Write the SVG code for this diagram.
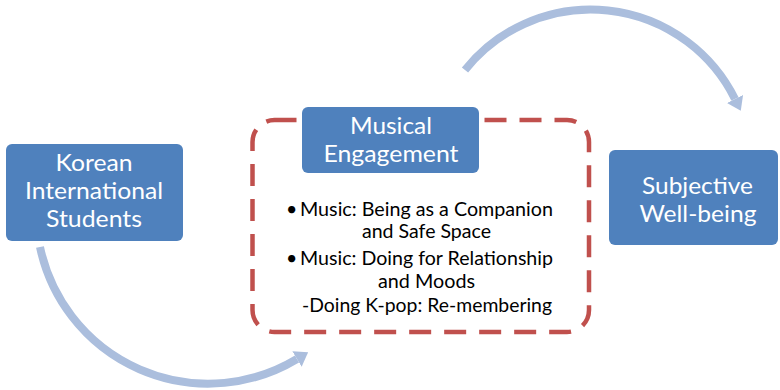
<svg xmlns="http://www.w3.org/2000/svg" width="780" height="390" viewBox="0 0 780 390">
  <style>
    .box { fill: #4f81bd; }
    .title { font-family: Lato, "Open Sans", "Liberation Sans", sans-serif; font-size: 23.5px; fill: #ffffff; text-anchor: middle; }
    .body { font-family: Lato, "Open Sans", "Liberation Sans", sans-serif; font-size: 19.5px; fill: #000000; }
    .flow { fill: none; stroke: #abbedd; stroke-width: 8; }
    .frame { fill: none; stroke: #c0504d; stroke-width: 4.5; stroke-dasharray: 22 13; }
  </style>
  <defs>
    <marker id="head" markerUnits="userSpaceOnUse" viewBox="0 0 13 18" refX="0" refY="9" markerWidth="13" markerHeight="18" orient="auto">
      <path d="M0,0 L13,9 L0,18 z" fill="#abbedd"/>
    </marker>
  </defs>

  <rect width="780" height="390" fill="#ffffff"/>

  <!-- curved flow arrows -->
  <g id="connectors">
    <path class="flow" d="M40,247 A172,172 0 0 0 297,359" marker-end="url(#head)"/>
    <path class="flow" d="M465,70 A161,161 0 0 1 735,99" marker-end="url(#head)"/>
  </g>

  <!-- dashed frame around musical engagement -->
  <g id="engagement-frame">
    <rect class="frame" x="252.5" y="120" width="336.5" height="212" rx="22" ry="22"/>
  </g>

  <g id="korean-students">
    <rect class="box" x="6" y="144" width="177" height="97" rx="6" ry="6"/>
    <text class="title" x="94" y="171" textLength="77" lengthAdjust="spacingAndGlyphs">Korean</text>
    <text class="title" x="94" y="199" textLength="138" lengthAdjust="spacingAndGlyphs">International</text>
    <text class="title" x="94" y="227" textLength="96" lengthAdjust="spacingAndGlyphs">Students</text>
  </g>

  <g id="musical-engagement">
    <rect class="box" x="302" y="107" width="177" height="66" rx="6" ry="6"/>
    <text class="title" x="391" y="134" textLength="82" lengthAdjust="spacingAndGlyphs">Musical</text>
    <text class="title" x="391" y="162" textLength="135" lengthAdjust="spacingAndGlyphs">Engagement</text>
  </g>

  <g id="engagement-details">
    <text class="body" x="286" y="216">•</text>
    <text class="body" x="300" y="216" textLength="253" lengthAdjust="spacingAndGlyphs">Music: Being as a Companion</text>
    <text class="body" x="362" y="238" textLength="129" lengthAdjust="spacingAndGlyphs">and Safe Space</text>
    <text class="body" x="286" y="265">•</text>
    <text class="body" x="300" y="265" textLength="253" lengthAdjust="spacingAndGlyphs">Music: Doing for Relationship</text>
    <text class="body" x="378" y="288" textLength="97" lengthAdjust="spacingAndGlyphs">and Moods</text>
    <text class="body" x="302" y="312" textLength="250" lengthAdjust="spacingAndGlyphs">-Doing K-pop: Re-membering</text>
  </g>

  <g id="subjective-wellbeing">
    <rect class="box" x="609" y="150" width="169" height="95" rx="6" ry="6"/>
    <text class="title" x="697.5" y="194" textLength="111" lengthAdjust="spacingAndGlyphs">Subjective</text>
    <text class="title" x="698" y="222" textLength="117" lengthAdjust="spacingAndGlyphs">Well-being</text>
  </g>
</svg>
